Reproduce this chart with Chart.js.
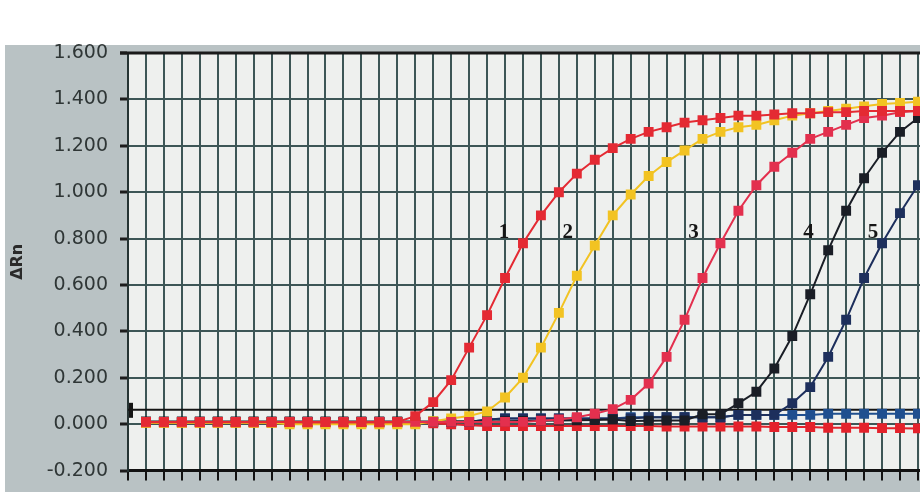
<!DOCTYPE html>
<html>
<head>
<meta charset="utf-8">
<script src="https://cdn.jsdelivr.net/npm/chart.js@4.4.1/dist/chart.umd.min.js"></script>
<style>
  html, body { margin: 0; padding: 0; background: #fff; }
  #wrap { width: 920px; height: 492px; overflow: hidden; position: relative; }
  #chart { display: block; }
</style>
</head>
<body>
<div id="wrap"><canvas id="chart" width="928" height="494"></canvas></div>
<script>
// cycle numbers on the x axis
const cycles = [1, 2, 3, 4, 5, 6, 7, 8, 9, 10, 11, 12, 13, 14, 15, 16, 17, 18, 19, 20, 21, 22,
  23, 24, 25, 26, 27, 28, 29, 30, 31, 32, 33, 34, 35, 36, 37, 38, 39, 40, 41, 42, 43, 44];

// delta Rn per cycle
const curve1 = [0.01, 0.009, 0.01, 0.009, 0.01, 0.009, 0.01, 0.009, 0.009, 0.008, 0.009, 0.008, 0.009, 0.008, 0.01,
  0.035, 0.095, 0.19, 0.33, 0.47, 0.63, 0.78, 0.90, 1.00, 1.08, 1.14, 1.19, 1.23, 1.26, 1.28,
  1.30, 1.31, 1.32, 1.33, 1.33, 1.335, 1.34, 1.34, 1.345, 1.345, 1.35, 1.35, 1.35, 1.35];
const curve2 = [0.006, 0.006, 0.006, 0.006, 0.006, 0.006, 0.006, 0.006, 0.0, 0.0, 0.0, 0.0, 0.0, 0.0, 0.0,
  0.0, 0.013, 0.025, 0.035, 0.055, 0.115, 0.20, 0.33, 0.48, 0.64, 0.77, 0.90, 0.99, 1.07, 1.13,
  1.18, 1.23, 1.26, 1.28, 1.29, 1.31, 1.33, 1.34, 1.35, 1.36, 1.37, 1.38, 1.385, 1.39];
const curve3 = [0.01, 0.01, 0.01, 0.01, 0.01, 0.01, 0.01, 0.01, 0.01, 0.01, 0.01, 0.01, 0.01, 0.01, 0.01,
  0.01, 0.01, 0.01, 0.01, 0.01, 0.01, 0.01, 0.015, 0.02, 0.03, 0.045, 0.065, 0.105, 0.175, 0.29,
  0.45, 0.63, 0.78, 0.92, 1.03, 1.11, 1.17, 1.23, 1.26, 1.29, 1.32, 1.33, 1.345, 1.35];
const curve4 = [0.012, 0.012, 0.012, 0.012, 0.012, 0.012, 0.012, 0.012, 0.012, 0.012, 0.012, 0.012, 0.012, 0.012, 0.012,
  0.012, 0.012, 0.013, 0.013, 0.012, 0.013, 0.014, 0.015, 0.016, 0.017, 0.018, 0.02, 0.014, 0.015, 0.016,
  0.016, 0.043, 0.043, 0.09, 0.14, 0.24, 0.38, 0.56, 0.75, 0.92, 1.06, 1.17, 1.26, 1.32];
const curve5 = [0.01, 0.01, 0.01, 0.01, 0.01, 0.01, 0.01, 0.01, 0.01, 0.01, 0.01, 0.01, 0.01, 0.01, 0.01,
  0.01, 0.01, 0.01, 0.01, 0.02, 0.025, 0.025, 0.025, 0.025, 0.025, 0.025, 0.025, 0.025, 0.03, 0.03,
  0.03, 0.03, 0.03, 0.04, 0.04, 0.04, 0.09, 0.16, 0.29, 0.45, 0.63, 0.78, 0.91, 1.03];
const blank = [0.01, 0.01, 0.01, 0.01, 0.01, 0.01, 0.01, 0.01, 0.01, 0.01, 0.01, 0.01, 0.01, 0.01, 0.01,
  0.01, 0.01, 0.01, 0.01, 0.02, 0.025, 0.025, 0.025, 0.025, 0.025, 0.025, 0.025, 0.03, 0.03, 0.03,
  0.03, 0.03, 0.03, 0.04, 0.04, 0.04, 0.04, 0.04, 0.045, 0.045, 0.045, 0.045, 0.045, 0.045];
const ntc = [0.006, 0.006, 0.006, 0.006, 0.006, 0.006, 0.006, 0.006, 0.006, 0.006, 0.006, 0.006, 0.006, 0.006, 0.006,
  0.006, 0.004, 0.0, -0.004, -0.008, -0.008, -0.008, -0.008, -0.008, -0.008, -0.008, -0.008, -0.008, -0.008, -0.01,
  -0.01, -0.01, -0.01, -0.01, -0.01, -0.012, -0.012, -0.012, -0.015, -0.015, -0.015, -0.017, -0.017, -0.018];

const threshold = 0.062;

// curve numbers written on the plot
const curveNames = ['1', '2', '3', '4', '5'];
const nameCycle = [20.95, 24.5, 31.5, 37.9, 41.5];
const nameLevel = 0.828;

function series(data, color) {
  return {
    data: data,
    borderColor: color,
    backgroundColor: color,
    pointBackgroundColor: color,
    pointBorderWidth: 0,
    pointStyle: 'rect',
    pointRadius: 7,
    borderWidth: 2,
    tension: 0
  };
}

// backdrop, threshold line, frame and curve numbers
const decor = {
  id: 'decor',
  beforeDraw(chart) {
    const { ctx, chartArea: a } = chart;
    ctx.save();
    ctx.fillStyle = '#ffffff';
    ctx.fillRect(0, 0, chart.width, chart.height);
    ctx.fillStyle = '#b9c2c4';
    ctx.fillRect(5, 45, chart.width - 5, chart.height - 45);
    ctx.fillStyle = '#eef0ee';
    ctx.fillRect(a.left, a.top, a.right - a.left, a.bottom - a.top);
    ctx.restore();
  },
  beforeDatasetsDraw(chart) {
    const { ctx, chartArea: a, scales } = chart;
    const ty = scales.y.getPixelForValue(threshold);
    ctx.save();
    ctx.strokeStyle = '#151515';
    ctx.lineWidth = 2;
    ctx.beginPath();
    ctx.moveTo(a.left, ty);
    ctx.lineTo(a.right, ty);
    ctx.stroke();
    ctx.fillStyle = '#151515';
    ctx.fillRect(a.left + 1, ty - 7, 4, 15);
    ctx.restore();
  },
  afterDatasetsDraw(chart) {
    const { ctx, chartArea: a, scales } = chart;
    ctx.save();
    ctx.strokeStyle = '#1a1a1a';
    ctx.lineWidth = 3;
    ctx.beginPath();
    ctx.moveTo(a.left - 8, a.top);
    ctx.lineTo(a.right, a.top);
    ctx.stroke();
    ctx.fillStyle = '#151515';
    ctx.font = 'bold 21px "Liberation Serif"';
    ctx.textAlign = 'center';
    ctx.textBaseline = 'middle';
    curveNames.forEach((n, i) => {
      ctx.fillText(n, scales.x.getPixelForValue(nameCycle[i]), scales.y.getPixelForValue(nameLevel));
    });
    ctx.restore();
  }
};

const ctx = document.getElementById('chart').getContext('2d');
new Chart(ctx, {
  type: 'line',
  data: {
    labels: cycles,
    datasets: [
      series(curve1, '#e42a33'),
      series(curve3, '#e3304e'),
      series(curve2, '#f2c322'),
      series(curve4, '#1a1e26'),
      series(curve5, '#1d2f5c'),
      series(blank, '#1f4f8f'),
      series(ntc, '#e4222b')
    ]
  },
  options: {
    responsive: false,
    animation: false,
    layout: { padding: { top: 53, right: 0, bottom: 0, left: 0 } },
    plugins: {
      legend: { display: false },
      tooltip: { enabled: false }
    },
    scales: {
      x: {
        type: 'linear',
        min: 0,
        max: 44.17,
        ticks: { stepSize: 1, autoSkip: false, includeBounds: false, maxRotation: 0, callback: () => '' },
        grid: { color: '#3d5656', lineWidth: 2, tickLength: 10, tickColor: '#111111', tickWidth: 2 },
        border: { color: '#111111', width: 3 },
        afterFit: s => { s.height = 20; }
      },
      y: {
        min: -0.2,
        max: 1.6,
        ticks: {
          stepSize: 0.2,
          padding: 12,
          color: '#2f3636',
          font: { family: 'DejaVu Sans', size: 19 },
          callback: v => (Math.abs(v) < 1e-9 ? 0 : v).toFixed(3)
        },
        grid: { color: '#3d5656', lineWidth: 2, tickLength: 8, tickColor: '#1c1c1c', tickWidth: 3 },
        border: { color: '#263434', width: 2 },
        title: {
          display: true,
          text: 'ΔRn',
          color: '#2a2a2a',
          font: { family: 'DejaVu Sans', size: 16, weight: 'bold' },
          padding: { top: 8, bottom: 0 }
        },
        afterFit: s => { s.width = 128; }
      }
    }
  },
  plugins: [decor]
});
</script>
</body>
</html>
